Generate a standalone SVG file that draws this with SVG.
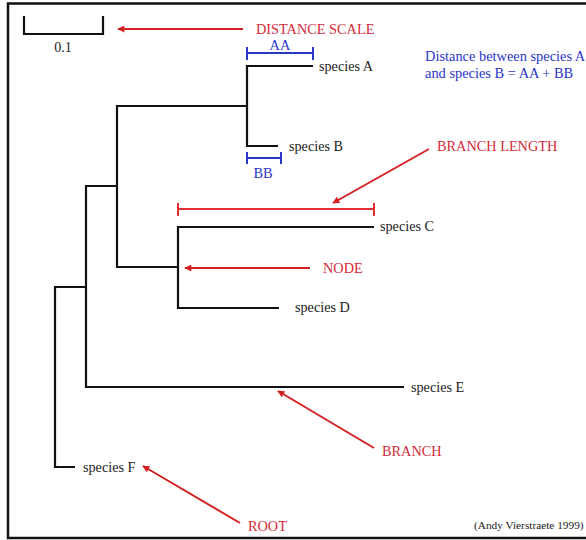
<svg xmlns="http://www.w3.org/2000/svg" width="586" height="540" viewBox="0 0 586 540">
<defs>
<marker id="ah" viewBox="0 0 10 10" refX="9" refY="5" markerWidth="9" markerHeight="7" markerUnits="userSpaceOnUse" orient="auto">
<path d="M0,0 L10,5 L0,10 Z" fill="#d42020"/>
</marker>
<style>
.t{font-family:"Liberation Serif","Times New Roman",serif;font-size:14.2px;fill:#222}
.r{font-family:"Liberation Serif","Times New Roman",serif;font-size:14.3px;fill:#d42a3a}
.b{font-family:"Liberation Serif","Times New Roman",serif;font-size:14.4px;fill:#2a35c8}
.br{fill:none;stroke:#111;stroke-width:2.2}
.ra{fill:none;stroke:#d42020;stroke-width:2}
.bl{fill:none;stroke:#2a35c8;stroke-width:2}
.rb{fill:none;stroke:#e03030;stroke-width:2}
</style>
</defs>
<rect width="586" height="540" fill="#fff"/>
<path d="M586 3.5 H8 V538 H586" fill="none" stroke="#111" stroke-width="2.5"/>

<g id="scale">
<path class="br" d="M24 16 V34 H103 V16"/>
<text class="t" x="63" y="52" text-anchor="middle">0.1</text>
</g>

<g id="tree">
<path class="br" d="M313 66 H247 V146 H278"/>
<path class="br" d="M247 106 H117 V267 H178"/>
<path class="br" d="M374 227 H178 V308 H279"/>
<path class="br" d="M117 186 H86 V387 H404"/>
<path class="br" d="M86 287 H55 V467 H75"/>
</g>

<g id="species-A"><text class="t" x="319" y="71">species A</text></g>
<g id="species-B"><text class="t" x="289" y="151">species B</text></g>
<g id="species-C"><text class="t" x="380" y="231">species C</text></g>
<g id="species-D"><text class="t" x="295" y="312">species D</text></g>
<g id="species-E"><text class="t" x="411" y="392">species E</text></g>
<g id="species-F"><text class="t" x="83" y="472">species F</text></g>

<g id="AA">
<path class="bl" d="M247 47 V60 M247 53 H313 M313 47 V60"/>
<text class="b" x="280" y="50" text-anchor="middle">AA</text>
</g>
<g id="BB">
<path class="bl" d="M247 152 V164 M247 158 H281 M281 152 V164"/>
<text class="b" x="263" y="178" text-anchor="middle">BB</text>
</g>
<g id="distance-note">
<text class="b" x="425" y="61">Distance between species A</text>
<text class="b" x="425" y="78">and species B = AA + BB</text>
</g>

<g id="branch-length-bar">
<path class="rb" d="M178 203 V216 M178 209 H374 M374 203 V216"/>
</g>

<g id="connectors">
<line class="ra" x1="243" y1="29" x2="118" y2="29" marker-end="url(#ah)"/>
<line class="ra" x1="429" y1="149" x2="333" y2="203" marker-end="url(#ah)"/>
<line class="ra" x1="310" y1="268" x2="185" y2="268" marker-end="url(#ah)"/>
<line class="ra" x1="374" y1="448" x2="278" y2="391" marker-end="url(#ah)"/>
<line class="ra" x1="240" y1="523" x2="143" y2="466" marker-end="url(#ah)"/>
</g>

<g id="label-distance-scale"><text class="r" x="256" y="34">DISTANCE SCALE</text></g>
<g id="label-branch-length"><text class="r" x="437" y="151">BRANCH LENGTH</text></g>
<g id="label-node"><text class="r" x="323" y="273">NODE</text></g>
<g id="label-branch"><text class="r" x="382" y="456">BRANCH</text></g>
<g id="label-root"><text class="r" x="248" y="531">ROOT</text></g>
<g id="credit"><text class="t" x="474" y="529" style="font-size:11.3px">(Andy Vierstraete 1999)</text></g>
</svg>
